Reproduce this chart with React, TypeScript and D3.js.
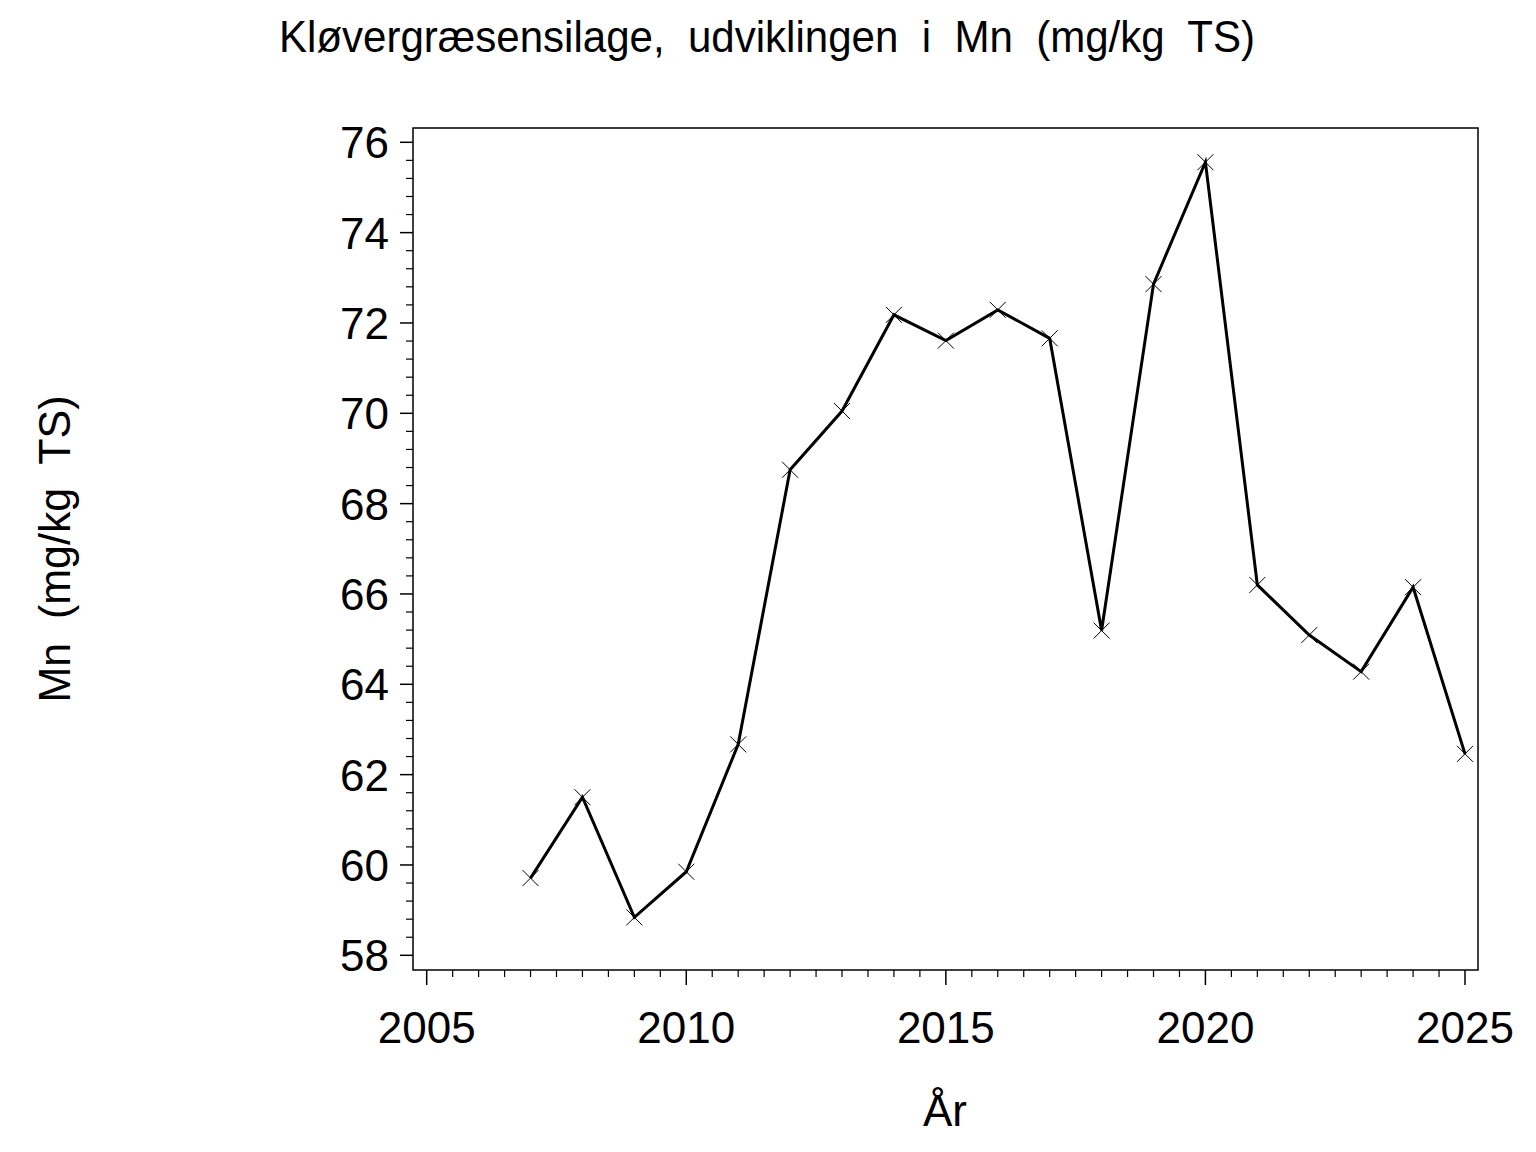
import React from "react";
import * as d3 from "d3";

const years = [2007, 2008, 2009, 2010, 2011, 2012, 2013, 2014, 2015, 2016, 2017, 2018, 2019, 2020, 2021, 2022, 2023, 2024, 2025];
const mnValues = [59.71, 61.5, 58.84, 59.85, 62.67, 68.75, 70.05, 72.18, 71.61, 72.29, 71.66, 65.19, 72.86, 75.56, 66.2, 65.09, 64.28, 66.15, 62.46];
const xTicks = [2005, 2010, 2015, 2020, 2025];
const yTicks = [58, 60, 62, 64, 66, 68, 70, 72, 74, 76];
const titleText = "Kløvergræsensilage,  udviklingen  i  Mn  (mg/kg  TS)";
const yLabel = "Mn  (mg/kg  TS)";
const xLabel = "År";

const FONT = "'Liberation Sans', Arial, Helvetica, sans-serif";

export default function App() {
  const W = 1536, H = 1152;
  const frame = { left: 413, right: 1478, top: 128, bottom: 970 };
  const x = d3.scaleLinear().domain([2005, 2025]).range([426.7, 1465]);
  const y = d3.scaleLinear().domain([58, 76]).range([955.3, 142.3]);

  const data = years.map((yr, i) => ({ yr, v: mnValues[i] }));
  const line = d3.line<{ yr: number; v: number }>().x(d => x(d.yr)).y(d => y(d.v));

  const xMinor = d3.range(2005, 2025.001, 0.5).filter(v => Math.abs(v - Math.round(v / 5) * 5) > 1e-6);
  const yMinor = d3.range(58, 76.001, 0.4).filter(v => Math.abs(v - Math.round(v / 2) * 2) > 1e-6);

  const ms = 8;

  return (
    <svg width={W} height={H} style={{ position: "absolute", left: 0, top: 0, background: "#fff" }}>
      <rect x={0} y={0} width={W} height={H} fill="#fff" />
      <text x={767} y={52} textAnchor="middle" fontFamily={FONT} fontSize={44} fill="#000"
        textLength={976} lengthAdjust="spacingAndGlyphs" style={{ whiteSpace: "pre" }}>
        {titleText}
      </text>
      <rect x={frame.left} y={frame.top} width={frame.right - frame.left} height={frame.bottom - frame.top} fill="none" stroke="#000" strokeWidth={1.5} />
      {yTicks.map(t => (
        <g key={"yt" + t}>
          <line x1={frame.left - 13} x2={frame.left} y1={y(t)} y2={y(t)} stroke="#000" strokeWidth={1.5} />
          <text x={389} y={y(t) + 16} textAnchor="end" fontFamily={FONT} fontSize={44} fill="#000">{t}</text>
        </g>
      ))}
      {yMinor.map((t, i) => (
        <line key={"ym" + i} x1={frame.left - 7} x2={frame.left} y1={y(t)} y2={y(t)} stroke="#000" strokeWidth={1.2} />
      ))}
      {xTicks.map(t => (
        <g key={"xt" + t}>
          <line x1={x(t)} x2={x(t)} y1={frame.bottom} y2={frame.bottom + 15} stroke="#000" strokeWidth={1.5} />
          <text x={x(t)} y={1043} textAnchor="middle" fontFamily={FONT} fontSize={44} fill="#000">{t}</text>
        </g>
      ))}
      {xMinor.map((t, i) => (
        <line key={"xm" + i} x1={x(t)} x2={x(t)} y1={frame.bottom} y2={frame.bottom + 7} stroke="#000" strokeWidth={1.2} />
      ))}
      <text x={945} y={1126} textAnchor="middle" fontFamily={FONT} fontSize={44} fill="#000">{xLabel}</text>
      <text transform={`translate(70, ${549}) rotate(-90)`} textAnchor="middle" fontFamily={FONT} fontSize={44} fill="#000"
        textLength={307} lengthAdjust="spacingAndGlyphs" style={{ whiteSpace: "pre" }}>
        {yLabel}
      </text>
      <path d={line(data) || ""} fill="none" stroke="#000" strokeWidth={3} strokeLinejoin="miter" />
      {data.map((d, i) => (
        <g key={"m" + i}>
          <line x1={x(d.yr) - ms} x2={x(d.yr) + ms} y1={y(d.v) - ms} y2={y(d.v) + ms} stroke="#000" strokeWidth={1} />
          <line x1={x(d.yr) - ms} x2={x(d.yr) + ms} y1={y(d.v) + ms} y2={y(d.v) - ms} stroke="#000" strokeWidth={1} />
        </g>
      ))}
    </svg>
  );
}
